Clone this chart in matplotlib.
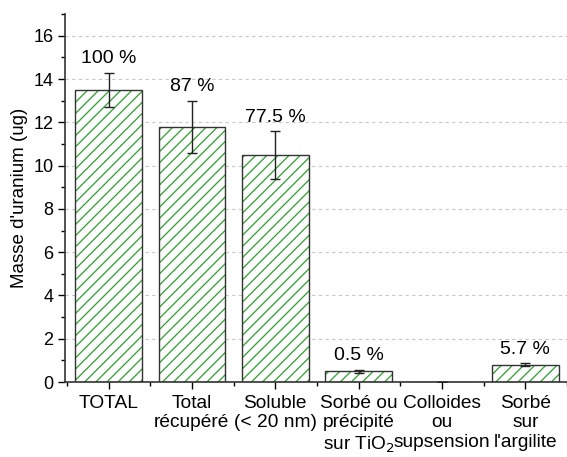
import numpy as np
import matplotlib.pyplot as plt
from matplotlib.ticker import MultipleLocator, FixedLocator

plt.rcParams['font.family'] = ['Liberation Sans', 'DejaVu Sans']
plt.rcParams['hatch.linewidth'] = 0.9

categories = ['TOTAL', 'Total\nrécupéré', 'Soluble\n(< 20 nm)',
              'Sorbé ou\nprécipité\nsur TiO$_2$', 'Colloides\nou\nsupsension',
              "Sorbé\nsur\nl'argilite"]
masse = [13.5, 11.8, 10.5, 0.5, 0.0, 0.8]
erreur = [0.8, 1.2, 1.1, 0.08, 0.0, 0.07]
pourcent = ['100 %', '87 %', '77.5 %', '0.5 %', '', '5.7 %']

fig = plt.figure(figsize=(5.67, 4.57), dpi=100)
ax = fig.add_axes([0.115, 0.164, 0.885, 0.805])

x = np.arange(len(categories))
# hachures vertes, puis contour sombre par-dessus
ax.bar(x, masse, width=0.8, color='white', edgecolor='#2ca02c', linewidth=0,
       hatch='///', zorder=2)
ax.bar(x, masse, width=0.8, color='none', edgecolor='#333333', linewidth=1.0,
       zorder=2.5)
ax.errorbar(x, masse, yerr=erreur, fmt='none',
            ecolor='#222222', elinewidth=1.0, capsize=3.5, capthick=1.0, zorder=3)

for xi, m, e, p in zip(x, masse, erreur, pourcent):
    if p:
        ax.text(xi, m + e + 0.25, p, ha='center', va='bottom', fontsize=14)

ax.set_xlim(-0.52, 5.5)
ax.set_ylim(0, 17)
ax.set_xticks(x)
ax.set_xticklabels(categories, fontsize=13.8, linespacing=1.22)
ax.xaxis.set_minor_locator(FixedLocator(np.arange(-0.5, 6, 1)))
ax.yaxis.set_major_locator(MultipleLocator(2))
ax.yaxis.set_minor_locator(MultipleLocator(1))
ax.tick_params(axis='x', which='major', direction='out', length=5, width=1, pad=4)
ax.tick_params(axis='y', which='major', direction='out', length=5, width=1, labelsize=13)
ax.tick_params(axis='both', which='minor', direction='out', length=3, width=1)
ax.set_ylabel("Masse d'uranium (ug)", fontsize=13.5)

ax.yaxis.grid(True, which='major', linestyle=(0, (3, 3)), color='#c8c8c8', linewidth=0.8, zorder=0)
ax.set_axisbelow(True)
for s in ['top', 'right']:
    ax.spines[s].set_visible(False)
for s in ['left', 'bottom']:
    ax.spines[s].set_linewidth(1.2)
    ax.spines[s].set_color('#333333')

fig.savefig('out.png', dpi=100)
